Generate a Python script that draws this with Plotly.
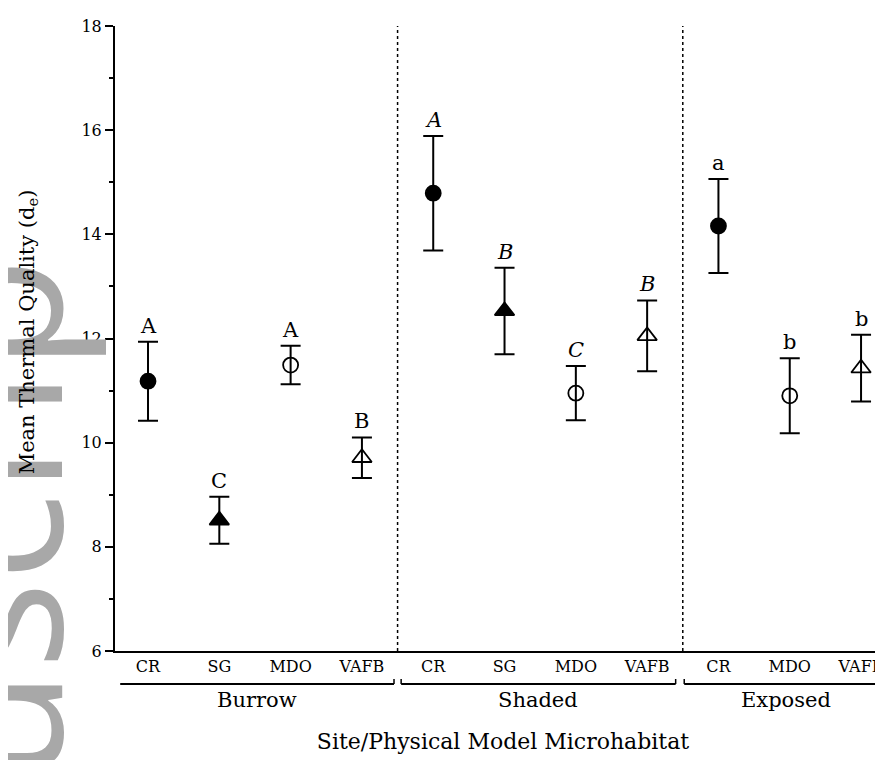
import plotly.graph_objects as go

# ---- data ----
groups = ["Burrow", "Shaded", "Exposed"]
sites = ["CR", "SG", "MDO", "VAFB", "CR", "SG", "MDO", "VAFB", "CR", "MDO", "VAFB"]
site_group = ["Burrow"] * 4 + ["Shaded"] * 4 + ["Exposed"] * 3
means = [11.18, 8.51, 11.49, 9.71, 14.79, 12.53, 10.95, 12.05, 14.16, 10.90, 11.43]
errors = [0.76, 0.45, 0.37, 0.39, 1.10, 0.83, 0.52, 0.68, 0.90, 0.72, 0.64]
letters = ["A", "C", "A", "B", "A", "B", "C", "B", "a", "b", "b"]
y_ticks = [6, 8, 10, 12, 14, 16, 18]

marker_style = {
    "CR": ("circle", 15),
    "SG": ("triangle-up", 17),
    "MDO": ("circle-open", 15),
    "VAFB": ("triangle-up-open", 17),
}

SERIF = "DejaVu Serif, Liberation Serif, serif"
xs = list(range(len(sites)))

fig = go.Figure()
for site in ["CR", "SG", "MDO", "VAFB"]:
    idx = [i for i, s in enumerate(sites) if s == site]
    sym, sz = marker_style[site]
    fig.add_trace(go.Scatter(
        x=[xs[i] for i in idx],
        y=[means[i] for i in idx],
        mode="markers",
        marker=dict(symbol=sym, size=sz, color="black",
                    line=dict(color="black", width=1.8)),
        error_y=dict(type="data", array=[errors[i] for i in idx],
                     color="black", thickness=2, width=10),
        showlegend=False,
        name=site,
    ))

# watermark fragment (behind the other annotations)
fig.add_annotation(x=0.003, y=0.21, xref="paper", yref="paper",
                   text="uscrip", textangle=-90, showarrow=False,
                   xanchor="right", yanchor="middle",
                   font=dict(family="Open Sans, sans-serif", size=185, color="#a8a8a8"))

# y-axis title drawn as annotation so it sits above the watermark
fig.add_annotation(x=-0.112, y=0.51, xref="paper", yref="paper",
                   text="Mean Thermal Quality (d<sub>e</sub>)", textangle=-90,
                   showarrow=False, xanchor="center", yanchor="middle",
                   font=dict(family=SERIF, size=21, color="black"))

# significance letters
for i in xs:
    italic = site_group[i] == "Shaded"
    txt = f"<i>{letters[i]}</i>" if italic else letters[i]
    fig.add_annotation(x=xs[i], y=means[i] + errors[i], text=txt,
                       showarrow=False, yanchor="middle", yshift=16,
                       font=dict(family=SERIF, size=21, color="black"))

# group separators (dotted) and bracket lines
bounds = {"Burrow": (-0.39, 3.45), "Shaded": (3.55, 7.40), "Exposed": (7.52, 10.38)}
for sep in [3.5, 7.5]:
    fig.add_shape(type="line", xref="x", yref="paper", x0=sep, x1=sep,
                  y0=0, y1=1, line=dict(color="black", width=1.5, dash="dot"))
GY = -0.0528
for g in groups:
    a, b = bounds[g]
    fig.add_shape(type="line", xref="x", yref="paper", x0=a, x1=b,
                  y0=GY, y1=GY, line=dict(color="black", width=2))
    fig.add_annotation(x=(a + b) / 2, y=-0.079, xref="x", yref="paper",
                       text=g, showarrow=False, yanchor="middle",
                       font=dict(family=SERIF, size=21, color="black"))
# little upturned hooks at the inner bracket ends
for hx in [3.45, 3.55, 7.40, 7.52]:
    fig.add_shape(type="line", xref="x", yref="paper", x0=hx, x1=hx,
                  y0=GY, y1=GY + 0.008, line=dict(color="black", width=1.5))
# x-axis line runs slightly past the y axis on the left
fig.add_shape(type="line", xref="paper", yref="paper", x0=-0.012, x1=0,
              y0=0, y1=0, line=dict(color="black", width=2))

fig.update_layout(
    width=883, height=760,
    margin=dict(l=107, r=0, t=18, b=117),
    plot_bgcolor="white", paper_bgcolor="white",
    font=dict(family=SERIF, color="black"),
    xaxis=dict(range=[-0.463, 10.42], tickvals=xs, ticktext=sites,
               showline=True, linecolor="black", linewidth=2,
               ticks="", showgrid=False, zeroline=False,
               tickfont=dict(family=SERIF, size=16, color="black"),
               title=dict(text="Site/Physical Model Microhabitat",
                          font=dict(family=SERIF, size=22), standoff=58)),
    yaxis=dict(range=[6, 18], tickvals=y_ticks,
               showline=True, linecolor="black", linewidth=2,
               ticks="outside", ticklen=8, tickwidth=2, tickcolor="black",
               minor=dict(ticks="outside", ticklen=4, tickwidth=2,
                          tickcolor="black", dtick=1),
               showgrid=False, zeroline=False,
               tickfont=dict(family=SERIF, size=16, color="black")),
)

fig.write_html("out.html")
